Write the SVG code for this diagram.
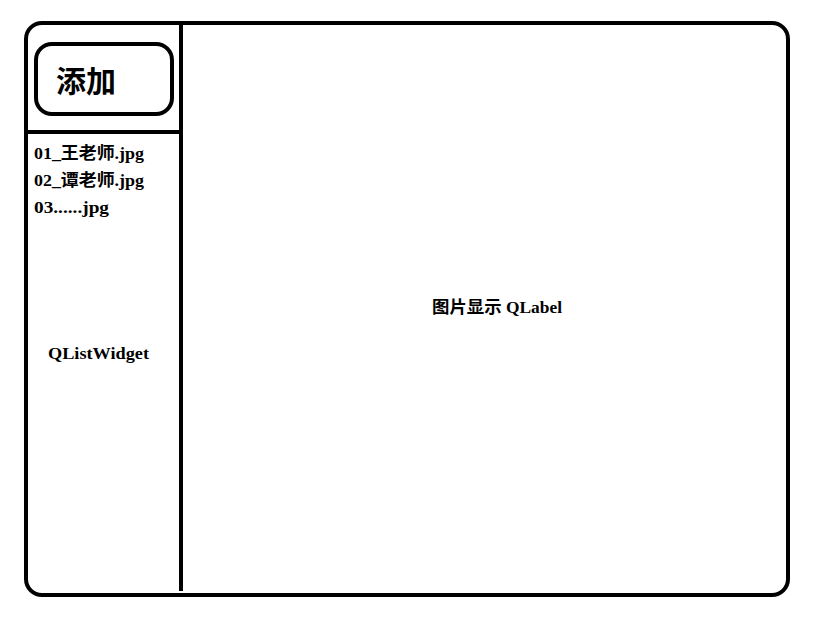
<svg xmlns="http://www.w3.org/2000/svg" width="835" height="629" viewBox="0 0 835 629">
<style>
.ln{fill:none;stroke:#000;stroke-width:4;}
.t{font-family:"Liberation Serif","Noto Sans CJK SC",serif;font-weight:bold;font-size:17px;fill:#000;}
.btn{font-family:"Noto Sans CJK SC","Noto Sans",sans-serif;font-weight:bold;font-size:30px;fill:#000;}
</style>
<rect width="835" height="629" fill="#fff"/>
<g id="window">
<rect class="ln" x="26" y="23" width="762" height="572" rx="16"/>
</g>
<g id="connectors">
<line class="ln" x1="181" y1="23" x2="181" y2="591"/>
<line class="ln" x1="26" y1="132" x2="181" y2="132"/>
</g>
<g id="add-button">
<rect class="ln" x="36" y="44" width="136" height="70" rx="16"/>
<text class="btn" x="56" y="92">添加</text>
</g>
<g id="list-widget">
<text class="t" x="34" y="159" textLength="110" lengthAdjust="spacingAndGlyphs">01_王老师.jpg</text>
<text class="t" x="34" y="186" textLength="110" lengthAdjust="spacingAndGlyphs">02_谭老师.jpg</text>
<text class="t" x="34" y="213" textLength="75" lengthAdjust="spacingAndGlyphs">03......jpg</text>
<text class="t" x="48" y="359" textLength="101" lengthAdjust="spacingAndGlyphs">QListWidget</text>
</g>
<g id="label">
<text class="t" x="432" y="313" textLength="130" lengthAdjust="spacingAndGlyphs">图片显示 QLabel</text>
</g>
</svg>
